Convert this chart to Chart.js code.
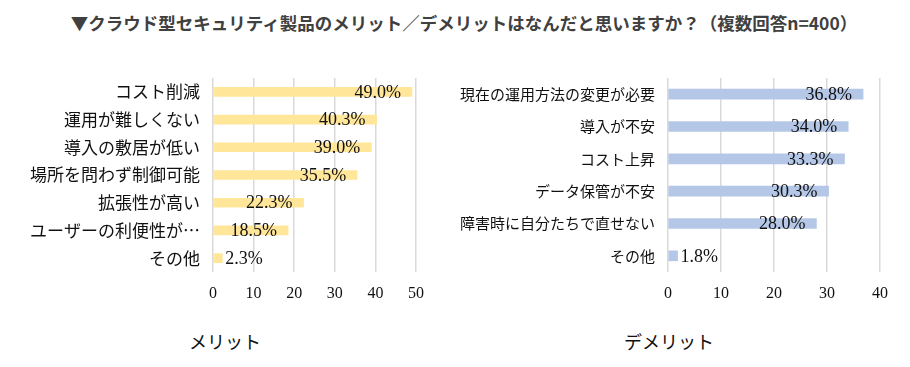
<!DOCTYPE html>
<html>
<head>
<meta charset="utf-8">
<script src="https://cdn.jsdelivr.net/npm/chart.js@4.4.1/dist/chart.umd.min.js"></script>
<style>
  body { margin: 0; background: #fff; }
  #wrap { position: relative; width: 910px; height: 367px; overflow: hidden; }
  canvas { position: absolute; top: 0; }
  .txt { position: absolute; white-space: nowrap; font-family: "Noto Sans CJK JP", sans-serif; }
  #title { left: 0; width: 928px; top: 10px; text-align: center; font-size: 17.5px; font-weight: bold; color: #404040; }
  .sub { top: 328px; font-size: 18px; color: #111; transform: translateX(-50%); }
</style>
</head>
<body>
<div id="wrap">
  <div id="title" class="txt">▼クラウド型セキュリティ製品のメリット／デメリットはなんだと思いますか？（複数回答n=400）</div>
  <canvas id="meritChart" width="455" height="310" style="left:0"></canvas>
  <canvas id="demeritChart" width="455" height="310" style="left:455px"></canvas>
  <div class="txt sub" style="left:225px">メリット</div>
  <div class="txt sub" style="left:669px">デメリット</div>
</div>
<script>
// データ
const meritLabels = ["コスト削減", "運用が難しくない", "導入の敷居が低い", "場所を問わず制御可能", "拡張性が高い", "ユーザーの利便性が…", "その他"];
const meritValues = [49.0, 40.3, 39.0, 35.5, 22.3, 18.5, 2.3];
const meritTicks = [0, 10, 20, 30, 40, 50];

const demeritLabels = ["現在の運用方法の変更が必要", "導入が不安", "コスト上昇", "データ保管が不安", "障害時に自分たちで直せない", "その他"];
const demeritValues = [36.8, 34.0, 33.3, 30.3, 28.0, 1.8];
const demeritTicks = [0, 10, 20, 30, 40];

// バーの値ラベル（内側端、入らなければ外側）
const valueLabels = {
    id: "valueLabels",
    afterDatasetsDraw(chart) {
        const ctx = chart.ctx;
        const meta = chart.getDatasetMeta(0);
        const data = chart.data.datasets[0].data;
        ctx.save();
        ctx.font = '18px "Liberation Serif", serif';
        ctx.fillStyle = "#111";
        ctx.textBaseline = "middle";
        ctx.textAlign = "left";
        meta.data.forEach((bar, i) => {
            const text = data[i].toFixed(1) + "%";
            const w = ctx.measureText(text).width;
            let x = bar.x - 11 - w;
            if (x < bar.base + 2) x = bar.x + 3;
            ctx.fillText(text, x, bar.y + 1);
        });
        ctx.restore();
    }
};

function makeChart(id, labels, values, ticks, color, thickness, labelSize, padRight) {
    return new Chart(document.getElementById(id), {
        type: "bar",
        data: {
            labels: labels,
            datasets: [{
                data: values,
                backgroundColor: color,
                barThickness: thickness
            }]
        },
        options: {
            indexAxis: "y",
            responsive: false,
            animation: false,
            layout: { padding: { top: 78, right: padRight, bottom: 0, left: 0 } },
            plugins: { legend: { display: false }, tooltip: { enabled: false } },
            scales: {
                x: {
                    min: 0,
                    max: ticks[ticks.length - 1],
                    afterBuildTicks: s => { s.ticks = ticks.map(v => ({ value: v })); },
                    afterFit: s => { s.height = 38; },
                    border: { display: false },
                    grid: { color: "#d9d9d9", lineWidth: 1.5, drawTicks: false },
                    ticks: { padding: 12, color: "#111", font: { family: '"Liberation Serif", serif', size: 16 } }
                },
                y: {
                    afterFit: s => { s.width = 213; },
                    border: { display: false },
                    grid: { display: false, drawTicks: false },
                    ticks: { padding: 13, color: "#111", font: { family: '"Noto Sans CJK JP", sans-serif', size: labelSize } }
                }
            }
        },
        plugins: [valueLabels]
    });
}

makeChart("meritChart", meritLabels, meritValues, meritTicks, "#FFE699", 9, 17, 39);
makeChart("demeritChart", demeritLabels, demeritValues, demeritTicks, "#B4C7E7", 10, 15, 30);
</script>
</body>
</html>
